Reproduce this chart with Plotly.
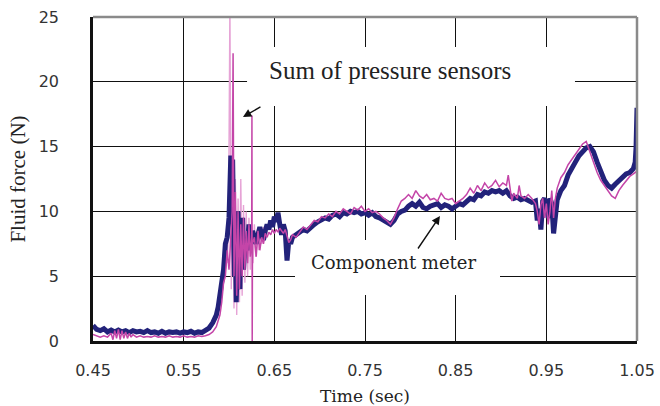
import plotly.graph_objects as go

# ---- Data ----
x_ticks = [0.45, 0.55, 0.65, 0.75, 0.85, 0.95, 1.05]
x_tick_labels = ["0.45", "0.55", "0.65", "0.75", "0.85", "0.95", "1.05"]
y_ticks = [0, 5, 10, 15, 20, 25]

# Component meter (navy, thick)
t_meter = [0.450, 0.454, 0.458, 0.462, 0.466, 0.470, 0.474, 0.478, 0.482, 0.486,
           0.490, 0.494, 0.498, 0.502, 0.506, 0.510, 0.514, 0.518, 0.522, 0.526,
           0.530, 0.534, 0.538, 0.542, 0.546, 0.550, 0.554, 0.558, 0.562, 0.566,
           0.570, 0.574, 0.578, 0.582, 0.586, 0.588, 0.590, 0.592, 0.594, 0.596,
           0.598, 0.600, 0.601, 0.602, 0.603, 0.604, 0.605, 0.606, 0.607, 0.608,
           0.609, 0.610, 0.611, 0.612, 0.613, 0.614, 0.615, 0.616, 0.618, 0.620,
           0.622, 0.624, 0.626, 0.628, 0.630, 0.632, 0.634, 0.636, 0.638, 0.640,
           0.642, 0.644, 0.646, 0.648, 0.650, 0.652, 0.654, 0.656, 0.658, 0.660,
           0.662, 0.664, 0.666, 0.668, 0.670, 0.674, 0.678, 0.682, 0.686, 0.690,
           0.694, 0.698, 0.702, 0.706, 0.710, 0.714, 0.718, 0.722, 0.726, 0.730,
           0.734, 0.738, 0.742, 0.746, 0.750, 0.754, 0.758, 0.762, 0.766, 0.770,
           0.774, 0.778, 0.782, 0.786, 0.790, 0.794, 0.798, 0.802, 0.806, 0.810,
           0.814, 0.818, 0.822, 0.826, 0.830, 0.834, 0.838, 0.842, 0.846, 0.850,
           0.854, 0.858, 0.862, 0.866, 0.870, 0.874, 0.878, 0.882, 0.886, 0.890,
           0.894, 0.898, 0.902, 0.906, 0.910, 0.914, 0.918, 0.922, 0.926, 0.930,
           0.934, 0.938, 0.940, 0.942, 0.944, 0.946, 0.948, 0.950, 0.952, 0.954,
           0.956, 0.958, 0.960, 0.962, 0.966, 0.970, 0.974, 0.978, 0.982, 0.986,
           0.990, 0.994, 0.998, 1.002, 1.006, 1.010, 1.014, 1.018, 1.022, 1.026,
           1.030, 1.034, 1.038, 1.042, 1.046, 1.048, 1.049, 1.050]
f_meter = [1.2, 0.9, 0.8, 0.95, 0.7, 0.85, 0.7, 0.85, 0.7, 0.8,
           0.65, 0.8, 0.7, 0.75, 0.65, 0.8, 0.65, 0.7, 0.6, 0.75,
           0.6, 0.7, 0.65, 0.7, 0.6, 0.7, 0.65, 0.75, 0.6, 0.7,
           0.65, 0.8, 1.0, 1.4, 2.0, 2.6, 3.5, 4.6, 5.5, 7.5,
           8.0, 9.5, 12.5, 14.3, 11.0, 14.0, 9.0, 5.0, 8.0, 3.0,
           6.5, 10.0, 7.0, 4.0, 9.0, 6.0, 9.5, 5.5, 8.0, 7.0,
           9.0, 7.5, 8.5, 8.0, 7.5, 8.2, 8.8, 8.2, 7.8, 8.5,
           9.0, 8.6, 9.3, 8.8, 9.6, 9.2, 9.9, 9.0, 8.2, 9.0,
           8.5, 6.2, 7.8, 7.5, 8.0, 8.2, 8.4, 8.6, 8.5, 8.8,
           9.0, 9.2, 9.3, 9.5, 9.4, 9.7, 9.8, 9.6, 9.9, 9.8,
           10.0, 9.9, 10.0, 9.8, 9.9, 9.7, 9.9, 9.6, 9.5, 9.3,
           9.1, 9.0, 9.3, 9.8, 10.0, 10.1, 10.4, 10.6, 10.4, 10.7,
           10.3, 10.2, 10.4, 10.5, 10.6, 10.3, 10.5, 10.4, 10.2, 10.4,
           10.6, 10.5, 10.8, 11.0, 10.9, 11.3, 11.2, 11.5, 11.4, 11.6,
           11.5, 11.6, 11.4, 11.6, 11.2, 11.0, 11.1, 10.9, 11.0, 10.9,
           10.7, 10.8, 9.3, 10.2, 8.6, 10.8, 11.0, 10.5, 9.5, 11.0,
           10.6, 8.3, 10.0, 10.9, 11.6, 12.0, 12.8, 13.4, 13.8, 14.3,
           14.6, 14.9, 15.0, 14.6, 13.8, 13.0, 12.4, 12.0, 11.8, 12.1,
           12.4, 12.6, 12.9, 13.0, 13.3, 13.8, 15.0, 18.0]

# Sum of pressure sensors (magenta, thin)
t_sensor = [0.450, 0.454, 0.458, 0.462, 0.466, 0.470, 0.472, 0.474, 0.476, 0.478,
            0.480, 0.482, 0.484, 0.486, 0.488, 0.490, 0.492, 0.494, 0.498, 0.502,
            0.506, 0.510, 0.514, 0.518, 0.522, 0.526, 0.530, 0.534, 0.538, 0.542,
            0.546, 0.550, 0.554, 0.558, 0.562, 0.566, 0.570, 0.574, 0.578, 0.582,
            0.586, 0.590, 0.592, 0.594, 0.596, 0.598, 0.600, 0.6035, 0.6045, 0.6055,
            0.607, 0.6085, 0.610, 0.6115, 0.613, 0.6145, 0.616, 0.6175, 0.619, 0.6205,
            0.622, 0.6235, 0.6250, 0.6253, 0.6256, 0.6259, 0.628, 0.630, 0.632, 0.634,
            0.636, 0.638, 0.640, 0.642, 0.644, 0.646, 0.648, 0.650, 0.652, 0.654,
            0.656, 0.658, 0.660, 0.662, 0.664, 0.666, 0.668, 0.670, 0.674, 0.678,
            0.682, 0.686, 0.690, 0.694, 0.698, 0.702, 0.706, 0.710, 0.714, 0.718,
            0.722, 0.726, 0.730, 0.734, 0.738, 0.742, 0.746, 0.750, 0.754, 0.758,
            0.762, 0.766, 0.770, 0.774, 0.778, 0.782, 0.786, 0.790, 0.794, 0.798,
            0.802, 0.806, 0.810, 0.814, 0.818, 0.822, 0.826, 0.830, 0.834, 0.838,
            0.842, 0.846, 0.850, 0.854, 0.858, 0.862, 0.866, 0.870, 0.874, 0.878,
            0.882, 0.886, 0.890, 0.894, 0.898, 0.902, 0.906, 0.908, 0.910, 0.912,
            0.914, 0.918, 0.920, 0.922, 0.926, 0.930, 0.934, 0.938, 0.940, 0.942,
            0.944, 0.946, 0.948, 0.950, 0.952, 0.954, 0.956, 0.958, 0.960, 0.962,
            0.966, 0.970, 0.974, 0.978, 0.982, 0.986, 0.990, 0.994, 0.998, 1.002,
            1.006, 1.010, 1.014, 1.018, 1.022, 1.026, 1.030, 1.034, 1.038, 1.042,
            1.046, 1.050]
f_sensor = [0.5, 0.4, 0.3, 0.4, 0.3, 0.6, 0.1, 0.8, 0.2, 0.9,
            0.1, 0.8, 0.2, 0.7, 0.2, 0.6, 0.3, 0.5, 0.3, 0.4,
            0.3, 0.35, 0.3, 0.4, 0.3, 0.35, 0.3, 0.4, 0.3, 0.35,
            0.3, 0.4, 0.3, 0.35, 0.3, 0.4, 0.35, 0.4, 0.5, 0.7,
            1.1, 2.0, 3.0, 4.5, 5.0, 7.0, 5.5, 10.0, 22.2, 5.0,
            11.5, 3.5, 10.0, 4.0, 9.0, 5.0, 9.5, 5.5, 8.5, 6.0,
            9.0, 6.5, 8.0, 17.4, 0.0, 7.5, 8.0, 6.5, 8.5, 7.0,
            8.0, 7.5, 8.3, 8.0, 8.4, 8.2, 8.6, 8.3, 8.6, 8.4,
            8.7, 8.5, 8.3, 8.6, 8.0, 7.6, 7.8, 8.2, 8.0, 8.4,
            8.8, 8.6, 9.0, 9.3, 9.2, 9.6, 9.5, 9.8, 9.6, 10.0,
            9.8, 10.2, 10.0, 9.8, 10.3, 10.1, 10.4, 10.0, 10.2, 9.9,
            10.0, 9.8, 9.5, 9.3, 9.0, 9.5, 10.2, 10.8, 11.0, 11.3,
            11.0, 11.6, 11.2, 11.0, 11.3, 10.9, 11.0, 10.8, 11.4, 11.0,
            10.9, 11.0, 10.6, 10.8, 11.0, 11.3, 11.8, 11.4, 12.0, 11.6,
            12.2, 11.8, 12.0, 12.4, 11.9, 12.2, 12.0, 12.8, 11.8, 10.8,
            11.4, 11.0, 12.0, 11.2, 11.0, 11.3, 11.0, 10.6, 10.0, 9.0,
            10.5, 11.0, 9.5, 10.6, 9.0, 10.0, 11.6, 9.5, 11.0, 11.8,
            12.6, 13.0, 13.6, 14.0, 14.4, 14.8, 15.2, 15.4, 14.6, 13.8,
            13.0, 12.4, 12.0, 11.6, 11.2, 11.0, 11.6, 12.0, 12.4, 12.7,
            12.9, 13.1]

# Fast oscillation of the sensor sum right after impact (light pink)
t_osc = [0.598, 0.5995, 0.601, 0.6025, 0.604, 0.6055, 0.607, 0.6085, 0.610, 0.6115,
         0.613, 0.6145, 0.616, 0.6175, 0.619, 0.6205, 0.622, 0.6235, 0.625, 0.6265,
         0.628, 0.6295, 0.631, 0.6325, 0.634, 0.636, 0.638, 0.640, 0.642]
f_osc = [6.0, 9.0, 26.0, 4.0, 13.0, 2.5, 12.5, 2.0, 11.0, 3.0,
         12.5, 3.5, 10.5, 4.5, 10.0, 5.0, 9.5, 5.5, 9.0, 6.0,
         9.0, 6.5, 8.5, 7.0, 8.5, 7.5, 8.8, 7.8, 8.5]

NAVY = "#22227a"
MAGENTA = "#c445a8"
PINK = "#e6a3d6"

fig = go.Figure()
fig.add_trace(go.Scatter(x=t_osc, y=f_osc, mode="lines",
                         line=dict(color=PINK, width=1.4), showlegend=False))
fig.add_trace(go.Scatter(x=t_meter, y=f_meter, mode="lines",
                         line=dict(color=NAVY, width=5), showlegend=False))
fig.add_trace(go.Scatter(x=t_sensor, y=f_sensor, mode="lines",
                         line=dict(color=MAGENTA, width=1.5), showlegend=False))

tick_font = dict(family="DejaVu Sans", size=16, color="#333333")

fig.update_layout(
    width=660, height=406,
    margin=dict(l=93, r=23, t=17, b=65),
    paper_bgcolor="white", plot_bgcolor="white",
    xaxis=dict(range=[0.45, 1.05], tickmode="array", tickvals=x_ticks,
               ticktext=x_tick_labels, tickfont=tick_font, ticks="",
               ticklabelstandoff=13, automargin=False,
               showgrid=True, gridcolor="#111111", gridwidth=1.2,
               zeroline=False, showline=True, linecolor="#111111", linewidth=2.5,
               title=dict(text="Time (sec)",
                          font=dict(family="DejaVu Serif", size=17, color="#222222"),
                          standoff=12)),
    yaxis=dict(range=[0, 25], tickmode="array", tickvals=y_ticks,
               tickfont=tick_font, ticks="", ticklabelstandoff=28, automargin=False,
               showgrid=True, gridcolor="#111111", gridwidth=1.2,
               zeroline=False, showline=True, linecolor="#111111", linewidth=2.5,
               title=dict(text="Fluid force (N)",
                          font=dict(family="Liberation Serif", size=21, color="#222222"),
                          standoff=8)),
    shapes=[
        # white boxes behind the labels (hide gridlines)
        dict(type="rect", xref="x", yref="y", x0=0.6199, x1=0.9816, y0=18.13, y1=22.69,
             fillcolor="white", line=dict(width=0), layer="between"),
        dict(type="rect", xref="x", yref="y", x0=0.6728, x1=0.8989, y0=3.55, y1=7.79,
             fillcolor="white", line=dict(width=0), layer="between"),
        # gray top and right frame
        dict(type="line", xref="paper", yref="paper", x0=0, x1=1, y0=1, y1=1,
             line=dict(color="#8a8a8a", width=2.5), layer="above"),
        dict(type="line", xref="paper", yref="paper", x0=1, x1=1, y0=0, y1=1,
             line=dict(color="#8a8a8a", width=2.5), layer="above"),
    ],
    annotations=[
        dict(text="Sum of pressure sensors", x=0.7781, y=20.91, xref="x", yref="y",
             showarrow=False, font=dict(family="Liberation Serif", size=25, color="#222222")),
        dict(text="Component meter", x=0.7809, y=6.02, xref="x", yref="y",
             showarrow=False, font=dict(family="DejaVu Serif", size=18, color="#222222")),
        dict(text="", x=0.6154, y=17.28, xref="x", yref="y", showarrow=True,
             ax=19, ay=-11, arrowhead=2, arrowsize=1.2, arrowwidth=1.4, arrowcolor="#111111"),
        dict(text="", x=0.8327, y=9.645, xref="x", yref="y", showarrow=True,
             ax=-23, ay=34, arrowhead=2, arrowsize=1.2, arrowwidth=1.4, arrowcolor="#111111"),
    ],
)

fig.write_html("out.html")
